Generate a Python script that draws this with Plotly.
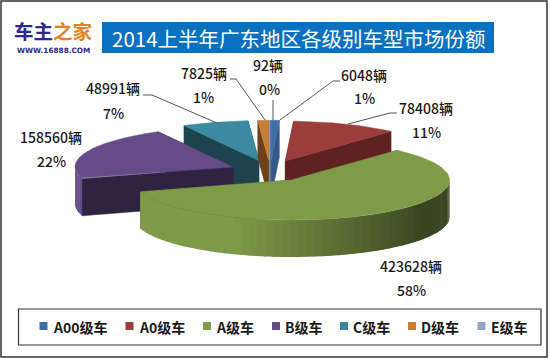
import numpy as np
import plotly.graph_objects as go

categories = ["A00级车", "A0级车", "A级车", "B级车", "C级车", "D级车", "E级车"]
units = [6048, 78408, 423628, 158560, 48991, 7825, 92]
percents = ["1%", "11%", "58%", "22%", "7%", "1%", "0%"]
unit_labels = ["6048辆", "78408辆", "423628辆", "158560辆", "48991辆", "7825辆", "92辆"]
title_text = "2014上半年广东地区各级别车型市场份额"

top_colors = ["#3f6ea6", "#9a3d3b", "#7f9a48", "#654b87", "#3b8a9f", "#c77f35", "#8fa6cc"]
wall_colors = ["#33598a", "#5e2320", "#4a5c28", "#2f2342", "#1c434e", "#6b4119", "#5a6a85"]
side_light = ["#3f6ea6", "#9a3d3b", "#7f9a48", "#654b87", "#3b8a9f", "#c77f35", "#8fa6cc"]
side_dark = ["#2a4a70", "#5e2320", "#3a4622", "#2f2342", "#1c434e", "#6b4119", "#5a6a85"]

# pie geometry, in image pixels
CX, CY = 270.0, 171.0
RX, RY = 158.0, 40.0
EX, EY = 40.0, 10.7
DEPTH = 37.0

label_pos = [(364, 75), (426, 108), (411, 266), (51, 137), (113, 88), (204, 73), (268, 65)]
pct_pos = [(364, 98), (426, 132), (411, 290), (51, 161), (113, 113), (203, 97), (269, 89)]
leader_x = [[280, 333, 340], [348, 390, 397], None, None, [217, 152, 143], [265, 236, 230], [273, 273]]
leader_y = [[120, 81, 81], [124, 113, 113], None, None, [123, 95, 95], [120, 79, 79], [120, 100]]
legend_x = [43.5, 129.5, 207, 276, 344, 412, 481.5]
LEGEND_Y = 327

fig = go.Figure()


def poly(xs, ys, color):
    fig.add_trace(go.Scatter(x=xs, y=ys, mode="lines", fill="toself", fillcolor=color,
                             line=dict(width=0.5, color=color), hoverinfo="skip", showlegend=False))


def pt(theta, apex):
    return apex[0] + RX * np.sin(theta), apex[1] - RY * np.cos(theta)


def mix(a, b, t):
    ca = [int(a[i:i + 2], 16) for i in (1, 3, 5)]
    cb = [int(b[i:i + 2], 16) for i in (1, 3, 5)]
    return "rgb(%d,%d,%d)" % tuple(round(p + (q - p) * t) for p, q in zip(ca, cb))


def slice_draw(i, start, end):
    mid = (start + end) / 2
    apex = (CX + EX * np.sin(mid), CY - EY * np.cos(mid))
    # radial walls
    for edge in (start, end):
        ex, ey = pt(edge, apex)
        poly([apex[0], ex, ex, apex[0], apex[0]],
             [apex[1], ey, ey + DEPTH, apex[1] + DEPTH, apex[1]], wall_colors[i])
    # rim: visible only on the front half of the ellipse
    a0, a1 = max(start, np.pi / 2), min(end, 3 * np.pi / 2)
    if a1 > a0:
        n = max(int((a1 - a0) / np.radians(3)), 1)
        grid = np.linspace(a0, a1, n + 1)
        for k in range(n):
            t = np.linspace(grid[k], grid[k + 1] + 0.01, 4)
            x, y = pt(t, apex)
            frac = 1 - ((grid[k] + grid[k + 1]) / 2 - np.pi / 2) / np.pi
            c = mix(side_light[i], side_dark[i], np.clip((frac - 0.38) * 2.4, 0, 1))
            fig.add_trace(go.Scatter(x=np.r_[x, x[::-1], x[0]], y=np.r_[y, y[::-1] + DEPTH, y[0]],
                                     mode="lines", fill="toself", fillcolor=c, line=dict(width=0),
                                     hoverinfo="skip", showlegend=False))
    # top face
    t = np.linspace(start, end, max(int((end - start) / np.radians(1)), 2) + 1)
    x, y = pt(t, apex)
    poly(np.r_[apex[0], x, apex[0]], np.r_[apex[1], y, apex[1]], top_colors[i])


total = sum(units)
edges = np.r_[0, np.cumsum(units)] / total * 2 * np.pi
for i in [4, 5, 6, 0, 1, 3, 2]:
    slice_draw(i, edges[i], edges[i + 1])

for xs, ys in zip(leader_x, leader_y):
    if xs:
        fig.add_trace(go.Scatter(x=xs, y=ys, mode="lines", line=dict(color="#555555", width=1),
                                 hoverinfo="skip", showlegend=False))

FONT = "Noto Sans CJK SC"
for (x, y), s in zip(label_pos + pct_pos, unit_labels + percents):
    fig.add_annotation(x=x, y=y, text=s, showarrow=False, xanchor="center", yanchor="middle",
                       font=dict(family=FONT, size=14, color="#1a1a1a", weight=500))

# legend
for name, x, c in zip(categories, legend_x, top_colors):
    fig.add_trace(go.Scatter(x=[x], y=[LEGEND_Y - 1], mode="markers", marker=dict(symbol="square", size=8, color=c),
                             cliponaxis=False, hoverinfo="skip", showlegend=False))
    fig.add_annotation(x=x + 8, y=LEGEND_Y, text=name, showarrow=False, xanchor="left", xshift=-1,
                       font=dict(family=FONT, size=14, color="#1a1a1a", weight=700))

shapes = [
    dict(type="rect", x0=1, y0=1, x1=547, y1=357, line=dict(color="#333333", width=1.5)),
    dict(type="rect", x0=18.5, y0=309, x1=541, y1=345, line=dict(color="#333333", width=1.2)),
    dict(type="rect", x0=102, y0=22, x1=494, y1=53, fillcolor="#0a70c0", line=dict(width=0), layer="below"),
]
fig.add_annotation(x=299, y=38, text=title_text, showarrow=False,
                   font=dict(family=FONT, size=20.5, color="white"))
fig.add_annotation(x=53, y=30, text="<b>车主<span style='color:#e87f22'>之家</span></b>", showarrow=False,
                   font=dict(family=FONT, size=19.5, color="#2d2a8c"))
fig.add_annotation(x=53, y=50, text="<b>WWW.16888.COM</b>", showarrow=False,
                   font=dict(family="DejaVu Sans", size=7.3, color="#2d2a8c"))

fig.update_layout(width=550, height=358, margin=dict(l=0, r=0, t=0, b=0),
                  paper_bgcolor="white", plot_bgcolor="white", shapes=shapes, showlegend=False,
                  xaxis=dict(range=[0, 550], visible=False, fixedrange=True),
                  yaxis=dict(range=[358, 0], visible=False, fixedrange=True))
fig.write_html("out.html", config=dict(displayModeBar=False),
               post_script="document.body.style.margin='0';document.documentElement.style.overflow='hidden';")
